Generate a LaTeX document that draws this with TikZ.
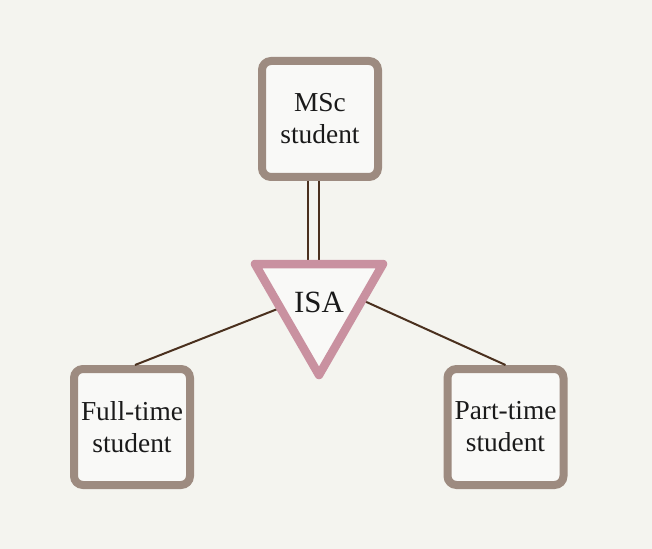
\documentclass[tikz,border=0pt]{standalone}
\usepackage{fontspec}
\setmainfont{Liberation Serif}
\usetikzlibrary{calc}
\definecolor{bg}{RGB}{244,244,239}
\definecolor{boxfill}{RGB}{249,249,247}
\definecolor{boxline}{RGB}{157,139,128}
\definecolor{isapink}{RGB}{201,145,160}
\definecolor{conn}{RGB}{74,48,30}
\definecolor{txt}{RGB}{26,26,26}
\tikzset{
  entity/.style={draw=boxline, fill=boxfill, line width=8bp, rounded corners=9bp,
    minimum width=116bp, minimum height=116bp, align=center, inner sep=0pt,
    text=txt, font=\fontsize{27.5}{32}\selectfont},
  isaline/.style={draw=isapink, fill=boxfill, line width=8.5bp, line join=round},
  link/.style={draw=conn, line width=2bp},
}
\begin{document}
\begin{tikzpicture}[x=1bp,y=-1bp]
\fill[bg] (0,0) rectangle (652,549);
\useasboundingbox (0,0) rectangle (652,549);
% triangle corners
\coordinate (t1) at (255,264);
\coordinate (t2) at (383,264);
\coordinate (t3) at (319,375);
\coordinate (tl) at (280,308);
\coordinate (tr) at (362,300);
\coordinate (d1) at (308,265);
\coordinate (d2) at (319,265);
\node[entity] (msc) at (320,119) {MSc\\student};
\node[entity] (ft) at (132,427) {Full-time\\student};
\node[entity] (pt) at (505.5,427) {Part-time\\student};
% connectors
\draw[link] ($(msc.south)+(-12,0)$) -- (d1);
\draw[link] ($(msc.south)+(-1,0)$) -- (d2);
\draw[link] (tl) -- ($(ft.north)+(3,0)$);
\draw[link] (tr) -- (pt.north);
% ISA triangle
\path[isaline] (t1) -- (t2) -- (t3) -- cycle;
\node[text=txt, font=\fontsize{31}{36}\selectfont, inner sep=0pt] (isa) at (319,302) {ISA};
\end{tikzpicture}
\end{document}
